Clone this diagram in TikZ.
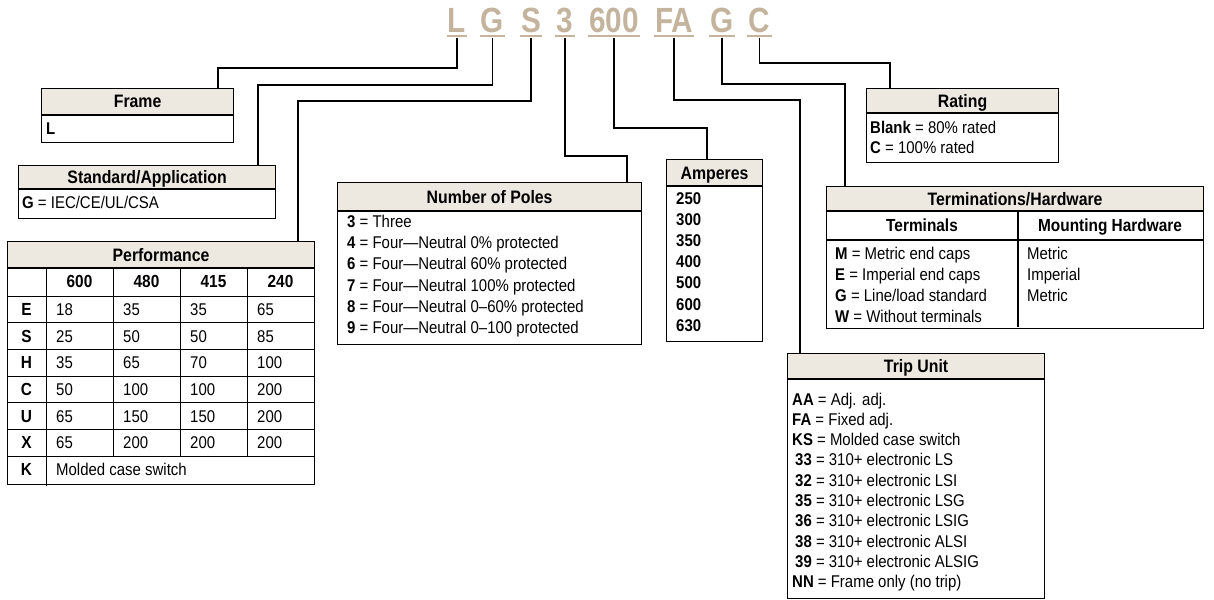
\documentclass[tikz,border=0pt]{standalone}
\usepackage{fontspec}
\setmainfont{Liberation Sans}[FakeStretch=0.88]
\newfontfamily\codefamily{Liberation Sans}[FakeStretch=0.85]
\usetikzlibrary{positioning}
\definecolor{codetan}{HTML}{C4B49D}
\definecolor{headfill}{HTML}{EDE8E0}

\begin{document}
\begin{tikzpicture}[x=1pt, y=-1pt,
		codeletter/.style={font=\codefamily\fontsize{35}{35}\selectfont\bfseries, text=codetan, inner xsep=1.2pt, inner ysep=3pt, text height=25pt, text depth=0pt, anchor=base},
		uline/.style={draw=codetan, line width=2.2pt},
		wire/.style={draw, line width=1.8pt, shorten <=1.5pt},
		head/.style={draw, line width=1.2pt, fill=headfill, anchor=north west, inner sep=0pt, font=\fontsize{18}{20}\selectfont\bfseries, text height=12.8pt, text depth=0pt},
		boxbody/.style={draw, line width=1.2pt, inner sep=0pt},
		entry/.style={anchor=base west, inner sep=0pt, font=\fontsize{17}{20}\selectfont},
		subhead/.style={anchor=base, inner sep=0pt, font=\fontsize{17.5}{20}\selectfont\bfseries},
		grid/.style={draw, line width=0.9pt}]
		\useasboundingbox (0,0) rectangle (1214,599);

		% Code letters
		\node[codeletter] (cL) at (457,33) {L};
		\node[codeletter] (cG) at (492.5,33) {G};
		\node[codeletter] (cS) at (531,33) {S};
		\node[codeletter] (c3) at (565,33) {3};
		\node[codeletter] (c600) at (614,33) {600};
		\node[codeletter] (cFA) at (674,33) {FA};
		\node[codeletter] (cGb) at (722,33) {G};
		\node[codeletter] (cC) at (759.5,33) {C};
		\foreach \n in {cL,cG,cS,c3,c600,cFA,cGb,cC}
			\draw[uline] (\n.south west) -- (\n.south east);

		% Frame
		\node[head, minimum width=192pt, minimum height=26pt] (frameHead) at (41,88) {Frame};
		\node[boxbody, minimum width=192pt, minimum height=27pt, below=0pt of frameHead] (frameBody) {};
		\node[entry, font=\fontsize{17}{20}\selectfont\bfseries] (fL) at (46,134) {L};

		% Standard/Application
		\node[head, minimum width=257pt, minimum height=23pt] (stdHead) at (18,165) {Standard/Application};
		\node[boxbody, minimum width=257pt, minimum height=29pt, below=0pt of stdHead] (stdBody) {};
		\node[entry] (stdG) at (22,208) {\textbf{G} = IEC/CE/UL/CSA};

		% Performance
		\node[head, minimum width=307pt, minimum height=26pt] (perfHead) at (7,241) {Performance};
		\node[boxbody, minimum width=307pt, minimum height=216pt, below=0pt of perfHead] (perfBody) {};
		\foreach \y in {296,322.7,349.4,376.1,402.8,429.5,456.2}
			\draw[grid] (perfBody.west |- 0,\y) -- (perfBody.east |- 0,\y);
		\draw[grid] (46,267) -- (46,486);
		\foreach \x in {113,180,247}
			\draw[grid] (\x,267) -- (\x,456.2);
		\foreach \v/\x in {600/79.5,480/146.5,415/213.5,240/280.5}
			\node[subhead] (v\v) at (\x,287.5) {\v};
		\foreach \r/\a/\b/\c/\d [count=\i from 0, evaluate=\i as \yb using 296+26.7*(\i+0.5)+6] in
			{E/18/35/35/65, S/25/50/50/85, H/35/65/70/100, C/50/100/100/200, U/65/150/150/200, X/65/200/200/200}
		{
			\node[subhead] (p\r) at (26.5,\yb) {\r};
			\node[entry] (p\r a) at (56,\yb) {\a};
			\node[entry] (p\r b) at (123,\yb) {\b};
			\node[entry] (p\r c) at (190,\yb) {\c};
			\node[entry] (p\r d) at (257,\yb) {\d};
		}
		\node[subhead] (pK) at (26.5,475.6) {K};
		\node[entry] (pKa) at (56,475.6) {Molded case switch};

		% Number of Poles
		\node[head, minimum width=304pt, minimum height=28pt] (polesHead) at (337,182) {Number of Poles};
		\node[boxbody, minimum width=304pt, minimum height=133pt, below=0pt of polesHead] (polesBody) {};
		\foreach \k/\t [count=\i from 0, evaluate=\i as \yb using 227.5+21.2*\i] in
			{3/Three, 4/Four—Neutral 0\% protected, 6/Four—Neutral 60\% protected,
			 7/Four—Neutral 100\% protected, 8/Four—Neutral 0–60\% protected, 9/Four—Neutral 0–100 protected}
			\node[entry] (n\k) at (347,\yb) {\textbf{\k} = \t};

		% Amperes
		\node[head, minimum width=96pt, minimum height=26pt] (ampHead) at (666,159) {Amperes};
		\node[boxbody, minimum width=96pt, minimum height=155pt, below=0pt of ampHead] (ampBody) {};
		\foreach \a [count=\i from 0, evaluate=\i as \yb using 204+21.2*\i] in {250,300,350,400,500,600,630}
			\node[entry, font=\fontsize{17}{20}\selectfont\bfseries] (a\a) at (676,\yb) {\a};

		% Rating
		\node[head, minimum width=192pt, minimum height=24pt] (rateHead) at (866,88) {Rating};
		\node[boxbody, minimum width=192pt, minimum height=49pt, below=0pt of rateHead] (rateBody) {};
		\node[entry] (rBlank) at (870,133) {\textbf{Blank} = 80\% rated};
		\node[entry] (rC) at (870,153.5) {\textbf{C} = 100\% rated};

		% Terminations/Hardware
		\node[head, minimum width=377pt, minimum height=24pt] (termHead) at (826,186) {Terminations/Hardware};
		\node[boxbody, minimum width=377pt, minimum height=117pt, below=0pt of termHead] (termBody) {};
		\draw[grid, line width=1.1pt] (termBody.west |- 0,240) -- (termBody.east |- 0,240);
		\draw[grid, line width=1.1pt] (1018,210) -- (1018,327);
		\node[subhead] (tTerm) at (922,231) {Terminals};
		\node[subhead] (tMount) at (1110,231) {Mounting Hardware};
		\foreach \k/\t/\h [count=\i from 0, evaluate=\i as \yb using 259+21.2*\i] in
			{M/Metric end caps/Metric, E/Imperial end caps/Imperial, G/Line\slash load standard/Metric, W/Without terminals/{}}
		{
			\node[entry] (t\k) at (835,\yb) {\textbf{\k} = \t};
			\node[entry] (h\k) at (1027,\yb) {\h};
		}

		% Trip Unit
		\node[head, minimum width=257pt, minimum height=25pt] (tripHead) at (787,353) {Trip Unit};
		\node[boxbody, minimum width=257pt, minimum height=219pt, below=0pt of tripHead] (tripBody) {};
		\foreach \k/\t [count=\i from 0, evaluate=\i as \yb using 405+20.3*\i] in
			{AA/Adj. adj., FA/Fixed adj., KS/Molded case switch,
			 \hspace{3pt}33/310+ electronic LS, \hspace{3pt}32/310+ electronic LSI, \hspace{3pt}35/310+ electronic LSG,
			 \hspace{3pt}36/310+ electronic LSIG, \hspace{3pt}38/310+ electronic ALSI, \hspace{3pt}39/310+ electronic ALSIG,
			 NN/Frame only (no trip)}
			\node[entry] (trip\i) at (792,\yb) {\textbf{\k} = \t};

		% Edges
		\coordinate (kL) at (218,68);
		\coordinate (kG) at (258,85);
		\coordinate (kS) at (298,101);
		\coordinate (k3) at (627,156);
		\coordinate (k600) at (707,128);
		\coordinate (kFA) at (800,100);
		\coordinate (kGb) at (845,84);
		\coordinate (kC) at (890,63);
		\draw[wire] (cL.south) |- (kL) -- (kL |- frameHead.north);
		\draw[wire] (cG.south) |- (kG) -- (kG |- stdHead.north);
		\draw[wire] (cS.south) |- (kS) -- (kS |- perfHead.north);
		\draw[wire] (c3.south) |- (k3) -- (k3 |- polesHead.north);
		\draw[wire] (c600.south) |- (k600) -- (k600 |- ampHead.north);
		\draw[wire] (cFA.south) |- (kFA) -- (kFA |- tripHead.north);
		\draw[wire] (cGb.south) |- (kGb) -- (kGb |- termHead.north);
		\draw[wire] (cC.south) |- (kC) -- (kC |- rateHead.north);
	\end{tikzpicture}
\end{document}
